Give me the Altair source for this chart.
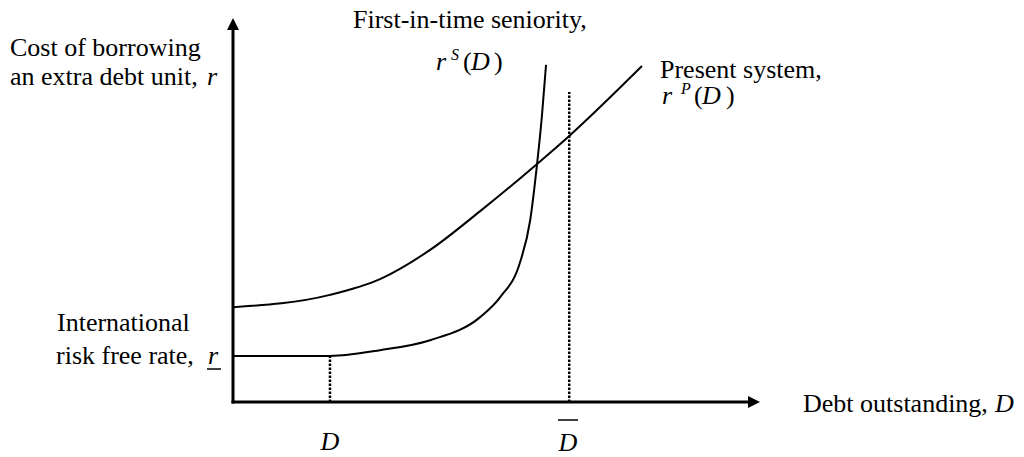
import altair as alt
import pandas as pd

# ---- data (x: debt outstanding, y: cost of borrowing) ----
present_x = [0.0, 1.84, 2.79, 3.74, 4.69, 5.77, 6.38, 7.76]
present_y = [2.47, 2.79, 3.20, 3.96, 4.97, 6.20, 6.93, 8.75]

senior_x = [0.0, 1.84, 2.79, 3.74, 4.69, 5.07, 5.45, 5.64, 5.77, 5.86, 5.94]
senior_y = [1.20, 1.20, 1.35, 1.61, 2.21, 2.73, 3.65, 4.74, 6.20, 7.42, 8.78]

guide_x = [1.84, 6.38]      # D and D-bar
guide_top = [1.20, 8.07]

# ---- layout ----
W, H = 527, 384
PAD = {"left": 225, "top": 10, "right": 256, "bottom": 51}
OX, OY = 233, 18  # page position of plot-area origin
FONT = "Liberation Serif"
FS = 26

curves = pd.concat([
    pd.DataFrame({"x": present_x, "y": present_y, "series": "present"}),
    pd.DataFrame({"x": senior_x, "y": senior_y, "series": "seniority"}),
])
guides = pd.DataFrame({"x": guide_x, "y0": [0.0, 0.0], "y1": guide_top})
one = pd.DataFrame({"k": [0]})

xs = alt.Scale(domain=[0, 10], nice=False, zero=False)
ys = alt.Scale(domain=[0, 10], nice=False, zero=False)

lines = alt.Chart(curves).mark_line(
    color="black", strokeWidth=2, interpolate="monotone"
).encode(
    x=alt.X("x:Q", scale=xs, axis=None),
    y=alt.Y("y:Q", scale=ys, axis=None),
    detail="series:N",
)

dotted = alt.Chart(guides).mark_rule(
    color="black", strokeWidth=2.5, strokeDash=[2.5, 1.5]
).encode(
    x=alt.X("x:Q", scale=xs, axis=None),
    y=alt.Y("y0:Q", scale=ys, axis=None),
    y2="y1:Q",
)

yaxis = alt.Chart(one).mark_rule(color="black", strokeWidth=3).encode(
    x=alt.value(0), y=alt.value(8), y2=alt.value(H + 1.5)
)
xaxis = alt.Chart(one).mark_rule(color="black", strokeWidth=3).encode(
    x=alt.value(-1.5), x2=alt.value(W - 8), y=alt.value(H)
)
arrow_up = alt.Chart(one).mark_point(
    shape="M0,0L-1,2L1,2Z", size=144, filled=True, color="black", opacity=1, strokeWidth=0
).encode(x=alt.value(0), y=alt.value(0))
arrow_right = alt.Chart(one).mark_point(
    shape="M0,0L-2,-1L-2,1Z", size=144, filled=True, color="black", opacity=1, strokeWidth=0
).encode(x=alt.value(W), y=alt.value(H))


def txt(s, px, py, size=FS, italic=False, align="left"):
    kw = dict(text=s, font=FONT, fontSize=size, align=align,
              baseline="alphabetic", color="black")
    if italic:
        kw["fontStyle"] = "italic"
    return alt.Chart(one).mark_text(**kw).encode(
        x=alt.value(px - OX), y=alt.value(py - OY)
    )


def hline(x1, x2, py, w=1.5):
    return alt.Chart(one).mark_rule(color="black", strokeWidth=w).encode(
        x=alt.value(x1 - OX), x2=alt.value(x2 - OX), y=alt.value(py - OY)
    )


labels = [
    # y-axis title
    txt("Cost of borrowing", 10, 56),
    txt("an extra debt unit,", 10, 85),
    txt("r", 207, 85, italic=True),
    # seniority curve label
    txt("First-in-time seniority,", 353, 28),
    txt("r", 436, 70, italic=True),
    txt("S", 451, 60, size=16, italic=True),
    txt("(", 463, 70),
    txt("D", 471, 70, italic=True),
    txt(")", 494, 70),
    # present system label
    txt("Present system,", 660, 78),
    txt("r", 662, 104, italic=True),
    txt("P", 681, 94, size=16, italic=True),
    txt("(", 694, 104),
    txt("D", 702, 104, italic=True),
    txt(")", 726, 104),
    # risk free rate
    txt("International", 57, 331),
    txt("risk free rate,", 56, 364),
    txt("r", 208, 364, italic=True),
    hline(207, 221, 369),
    # x labels
    txt("D", 330, 450, italic=True, align="center"),
    txt("D", 568, 451, italic=True, align="center"),
    hline(558, 578, 420),
    txt("Debt outstanding,", 803, 412),
    txt("D", 995, 412, italic=True),
]

chart = alt.layer(
    lines, dotted, yaxis, xaxis, arrow_up, arrow_right, *labels
).properties(
    width=W, height=H, padding=PAD,
    autosize=alt.AutoSizeParams(type="none"),
).configure_view(stroke=None)

chart.save("out.html", embed_options={"renderer": "svg", "actions": False})
